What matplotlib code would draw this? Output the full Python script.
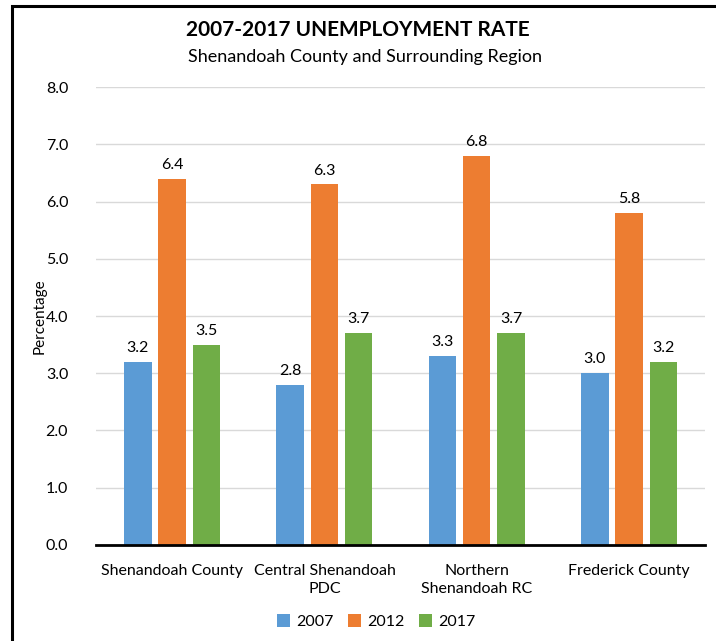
import numpy as np
import matplotlib.pyplot as plt
from matplotlib.patches import Rectangle

plt.rcParams['font.family'] = ['Lato', 'DejaVu Sans']

regions = ['Shenandoah County', 'Central Shenandoah\nPDC',
           'Northern\nShenandoah RC', 'Frederick County']
years = ['2007', '2012', '2017']
rate_2007 = [3.2, 2.8, 3.3, 3.0]
rate_2012 = [6.4, 6.3, 6.8, 5.8]
rate_2017 = [3.5, 3.7, 3.7, 3.2]
colors = ['#5B9BD5', '#ED7D31', '#70AD47']

fig = plt.figure(figsize=(7.16, 6.41), dpi=100)
ax = fig.add_axes([0.134, 0.150, 0.851, 0.714])

x = np.arange(len(regions))
width = 0.18
step = 0.225
for i, (vals, yr, c) in enumerate(zip([rate_2007, rate_2012, rate_2017], years, colors)):
    bars = ax.bar(x + (i - 1) * step, vals, width, color=c, label=yr, zorder=3)
    for b, v in zip(bars, vals):
        ax.text(b.get_x() + b.get_width() / 2, v + 0.12, f'{v:.1f}',
                ha='center', va='bottom', fontsize=11.5)

ax.set_ylim(0, 8)
ax.set_xlim(-0.5, 3.5)
ax.set_yticks(np.arange(0, 8.1, 1))
ax.set_yticklabels([f'{t:.1f}' for t in np.arange(0, 8.1, 1)])
ax.set_xticks(x)
ax.set_xticklabels(regions, linespacing=1.3)
ax.tick_params(axis='both', length=0, labelsize=11.5)
ax.tick_params(axis='y', pad=20)
ax.tick_params(axis='x', pad=14)
ax.yaxis.grid(True, color='#D9D9D9', lw=1, zorder=0)
for s in ['top', 'right', 'left']:
    ax.spines[s].set_visible(False)
ax.spines['bottom'].set_linewidth(2)
ax.spines['bottom'].set_zorder(4)
ax.set_ylabel('Percentage', fontsize=11, labelpad=-1)

fig.text(0.5, 0.953, '2007-2017 UNEMPLOYMENT RATE', ha='center', va='center',
         fontsize=15, fontweight='bold')
fig.text(0.51, 0.911, 'Shenandoah County and Surrounding Region', ha='center',
         va='center', fontsize=13)

ax.legend(loc='center', bbox_to_anchor=(0.46, -0.168), ncol=3, frameon=False,
          fontsize=11.5, handlelength=0.8, handleheight=0.8, handletextpad=0.4,
          columnspacing=0.9)

# outer frame
fig.patches.append(Rectangle((12 / 716, -0.05), 1.1, 1 - 5.5 / 641 + 0.05,
                             transform=fig.transFigure, fill=False,
                             edgecolor='black', lw=2.2))

fig.savefig('out.png', dpi=100)
